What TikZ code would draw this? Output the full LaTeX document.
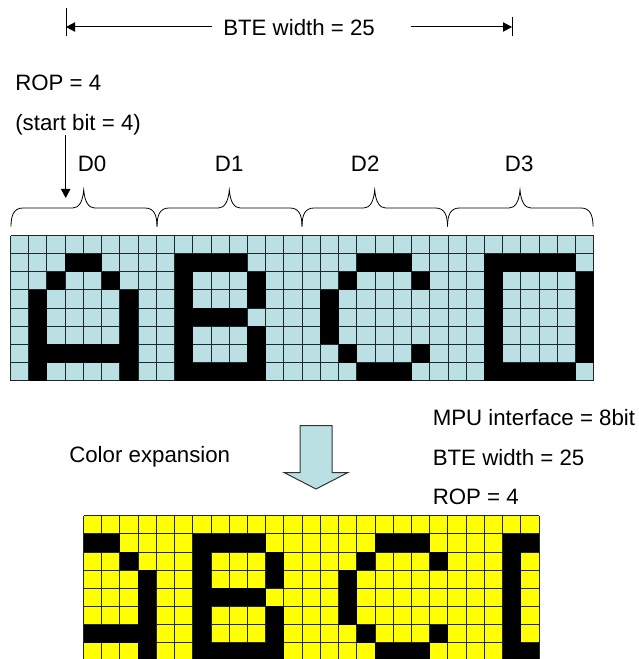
\documentclass[tikz,border=0pt]{standalone}
\usepackage{fontspec}
\setmainfont{Liberation Sans}
\usetikzlibrary{arrows.meta}
\definecolor{cellblue}{RGB}{187,224,227}
\definecolor{cellyellow}{RGB}{255,255,0}
\definecolor{gridline}{RGB}{30,40,40}
\tikzset{
  x=0.75pt,y=-0.75pt,
  lbl/.style={inner sep=0pt,anchor=base west,font=\fontsize{16.7}{20}\selectfont},
  thin line/.style={draw=black,line width=0.75pt},
  arr/.style={thin line,-{Triangle[length=6.75pt,width=7pt]}},
  curly/.style={draw=black,line width=0.6pt},
  gridl/.style={draw=gridline,line width=0.75pt},
  bigarrow/.style={draw=black!80,fill=cellblue,line width=0.75pt,line join=miter},
}
\newcommand{\pixgrid}[7]{%
  \fill[#5] (#1,#2) rectangle ({#1+#3*#6},{#2+#4*#7});
  \foreach \cc in {0,...,#3} \draw[gridl] ({#1+\cc*#6},#2) -- ({#1+\cc*#6},{#2+#4*#7});
  \foreach \rr in {0,...,#4} \draw[gridl] (#1,{#2+\rr*#7}) -- ({#1+#3*#6},{#2+\rr*#7});
}
\newcommand{\blackrun}[7]{%
  \fill[black] ({#1+#6*#3},{#2+#5*#4}) rectangle ({#1+(#7+1)*#3},{#2+(#5+1)*#4});
}
\newcommand{\curlybrace}[3]{%
  \draw[curly] (#1,226.5) .. controls (#1,215) and ({#1+3},208) .. ({#1+12},208)
    -- ({#3-11},208) .. controls ({#3-5},208) and ({#3-1},202) .. ({#3},190)
    .. controls ({#3+1},202) and ({#3+5},208) .. ({#3+11},208)
    -- ({#2-12},208) .. controls ({#2-3},208) and (#2,215) .. (#2,226.5);
}
\begin{document}
\begin{tikzpicture}
\useasboundingbox (0,0) rectangle (638,659);
\coordinate (tl1) at (66,8); \coordinate (tl2) at (66,36);
\coordinate (tr1) at (512,17); \coordinate (tr2) at (512,36);
\draw[thin line] (tl1) -- (tl2);
\draw[thin line] (tr1) -- (tr2);
\node[lbl] (bte) at (223,36) {BTE width = 25};
\coordinate (al) at (66,27); \coordinate (ar) at (512,27);
\coordinate (bl) at (212,27); \coordinate (br) at (411,27);
\draw[arr] (bl) -- (al);
\draw[arr] (br) -- (ar);
\node[lbl] (rop) at (15,90.5) {ROP = 4};
\node[lbl] (start) at (15,131) {(start bit = 4)};
\node[lbl] (d0) at (77.5,171.5) {D0};
\node[lbl] (d1) at (214.7,171.5) {D1};
\node[lbl] (d2) at (350.7,171.5) {D2};
\node[lbl] (d3) at (504.7,171.5) {D3};
\coordinate (ra) at (65.7,135); \coordinate (rb) at (65.7,198);
\draw[arr] (ra) -- (rb);
\curlybrace{11}{157}{83.7}
\curlybrace{157}{302}{229.3}
\curlybrace{302}{447.5}{374.7}
\curlybrace{447.5}{593}{520}
\pixgrid{10.5}{235.5}{32}{8}{cellblue}{18.23}{18.15}
\foreach \r/\a/\b in {1/3/4,2/2/2,2/5/5,3/1/1,3/6/6,4/1/1,4/6/6,5/1/1,5/6/6,6/1/6,7/1/1,7/6/6,
  1/9/12,2/9/9,2/13/13,3/9/9,3/13/13,4/9/12,5/9/9,5/13/13,6/9/9,6/13/13,7/9/13,
  1/19/21,2/18/18,2/22/22,3/17/17,4/17/17,5/17/17,6/18/18,6/22/22,7/19/21,
  1/26/30,2/26/26,2/31/31,3/26/26,3/31/31,4/26/26,4/31/31,5/26/26,5/31/31,6/26/26,6/31/31,7/26/30}
  {\blackrun{10.5}{235.5}{18.23}{18.15}{\r}{\a}{\b}}
\node[lbl] (mpu) at (432.5,425.7) {MPU interface = 8bit};
\node[lbl] (bw) at (432.5,465.7) {BTE width = 25};
\node[lbl] (rp) at (432.5,504.5) {ROP = 4};
\node[lbl] (ce) at (69,462.3) {Color expansion};
\draw[bigarrow] (300,425.5) -- (332,425.5) -- (332,472.5) -- (348,472.5) -- (316,489) -- (284,472.5) -- (300,472.5) -- cycle;
\begin{scope}
\clip (0,0) rectangle (638,659);
\pixgrid{83.5}{515.7}{25}{8}{cellyellow}{18.22}{18.15}
\foreach \r/\a/\b in {1/0/1,2/2/2,3/3/3,4/3/3,5/3/3,6/0/3,7/3/3,
  1/6/9,2/6/6,2/10/10,3/6/6,3/10/10,4/6/9,5/6/6,5/10/10,6/6/6,6/10/10,7/6/10,
  1/16/18,2/15/15,2/19/19,3/14/14,4/14/14,5/14/14,6/15/15,6/19/19,7/16/18,
  1/23/24,2/23/23,3/23/23,4/23/23,5/23/23,6/23/23,7/23/24}
  {\blackrun{83.5}{515.7}{18.22}{18.15}{\r}{\a}{\b}}
\end{scope}
\end{tikzpicture}
\end{document}
